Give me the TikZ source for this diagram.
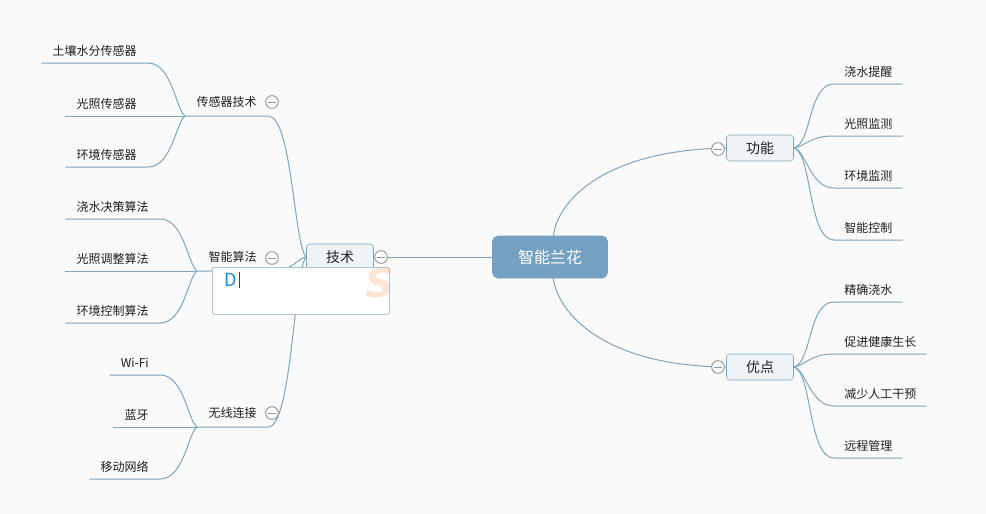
\documentclass[tikz,border=0pt]{standalone}
\usepackage{fontspec}
\setmainfont{Noto Sans CJK SC}
\newfontfamily\logofont{DejaVu Sans}
\usepackage{tikz}
\usetikzlibrary{positioning,calc}
\usepackage{xcolor}
\definecolor{rootblue}{RGB}{116,161,193}
\definecolor{linkblue}{RGB}{125,164,194}
\definecolor{topicfill}{RGB}{238,243,247}
\definecolor{pagebg}{RGB}{250,250,250}
\definecolor{imeblue}{RGB}{30,136,229}
\definecolor{imeframe}{RGB}{170,196,220}
\definecolor{foldgray}{RGB}{150,150,150}

\begin{document}
\begin{tikzpicture}[
  x=0.75pt, y=-0.75pt,
  root/.style={draw=rootblue, fill=rootblue, rounded corners=4pt, text=white, inner sep=0pt,
    font=\fontsize{12}{12}\selectfont, minimum width=86.25pt, minimum height=31.5pt},
  topic/.style={draw=linkblue, fill=topicfill, rounded corners=2.5pt, inner sep=0pt, text=black!88,
    font=\fontsize{10.5}{10.5}\selectfont, minimum width=50.25pt, minimum height=19.5pt},
  sub/.style={font=\fontsize{9}{9}\selectfont, text=black!88, inner xsep=8.5pt, inner ysep=0pt, minimum height=21pt},
  leafl/.style={font=\fontsize{9}{9}\selectfont, text=black!88, inner xsep=8.25pt, inner ysep=0pt, minimum height=18pt, anchor=south east},
  leafr/.style={font=\fontsize{9}{9}\selectfont, text=black!88, inner xsep=7.5pt, inner ysep=0pt, minimum height=18pt, anchor=south west},
  link/.style={draw=linkblue, line width=0.75pt},
  fold/.style={circle, draw=foldgray, fill=white, line width=0.7pt, minimum size=9.5pt, inner sep=0pt,
    path picture={\draw[foldgray, line width=0.7pt] ([xshift=-3.2pt]path picture bounding box.center) -- ([xshift=3.2pt]path picture bounding box.center);}}
]
\fill[pagebg] (0,0) rectangle (986,514);
\useasboundingbox (0,0) rectangle (986,514);

\node[root] (orchid) at (550,257) {智能兰花};
\node[topic] (tech) at (340,257) {技术};
\node[topic] (func) at (760,148) {功能};
\node[topic] (merit) at (760,367) {优点};

\node[sub, anchor=south west] (sensor) at (185,116) {传感器技术};
\node[sub, anchor=south west] (algo) at (197,271) {智能算法};
\node[sub, anchor=south west] (wireless) at (197,427) {无线连接};

\node[leafl] (soil) at (148,63) {土壤水分传感器};
\node[leafl] (lightsens) at (148,116) {光照传感器};
\node[leafl] (envsens) at (148,167) {环境传感器};
\node[leafl] (wateralgo) at (160,219) {浇水决策算法};
\node[leafl] (lightalgo) at (160,271) {光照调整算法};
\node[leafl] (envalgo) at (160,323) {环境控制算法};
\node[leafl] (wifi) at (160,375) {Wi-Fi};
\node[leafl] (bt) at (160,427) {蓝牙};
\node[leafl] (mobile) at (160,479) {移动网络};

\node[leafr] (remind) at (834,84) {浇水提醒};
\node[leafr] (lightmon) at (834,136) {光照监测};
\node[leafr] (envmon) at (834,188) {环境监测};
\node[leafr] (control) at (834,240) {智能控制};
\node[leafr] (precise) at (834,302) {精确浇水};
\node[leafr] (growth) at (834,354) {促进健康生长};
\node[leafr] (manual) at (834,406) {减少人工干预};
\node[leafr] (remote) at (834,458) {远程管理};

\draw[link] (orchid.west) -- (tech.east);
\draw[link] ([xshift=2.5pt]orchid.north) .. controls (558,200) and (605,150) .. (func.west);
\draw[link] ([xshift=2.5pt]orchid.south) .. controls (558,314) and (605,366) .. (merit.west);

\draw[link] (tech.west) .. controls (294,245) and (292,116) .. (sensor.south east) -- (sensor.south west);
\draw[link] (tech.west) .. controls (296,258) and (296,271) .. (algo.south east) -- (algo.south west);
\draw[link] (tech.west) .. controls (294,269) and (292,427) .. (wireless.south east) -- (wireless.south west);

\draw[link] (sensor.south west) .. controls (176,110) and (172,63) .. (soil.south east) -- (soil.south west);
\draw[link] (sensor.south west) -- (lightsens.south west);
\draw[link] (sensor.south west) .. controls (176,122) and (172,167) .. (envsens.south east) -- (envsens.south west);
\draw[link] (algo.south west) .. controls (188,265) and (184,219) .. (wateralgo.south east) -- (wateralgo.south west);
\draw[link] (algo.south west) -- (lightalgo.south west);
\draw[link] (algo.south west) .. controls (188,277) and (184,323) .. (envalgo.south east) -- (envalgo.south west);
\draw[link] (wireless.south west) .. controls (188,421) and (184,375) .. (wifi.south east) -- (wifi.south west);
\draw[link] (wireless.south west) -- (bt.south west);
\draw[link] (wireless.south west) .. controls (188,433) and (184,479) .. (mobile.south east) -- (mobile.south west);

\draw[link] (func.east) .. controls (812,144) and (808,84) .. (remind.south west) -- (remind.south east);
\draw[link] (func.east) .. controls (806,146) and (810,136) .. (lightmon.south west) -- (lightmon.south east);
\draw[link] (func.east) .. controls (806,150) and (810,188) .. (envmon.south west) -- (envmon.south east);
\draw[link] (func.east) .. controls (812,152) and (808,240) .. (control.south west) -- (control.south east);
\draw[link] (merit.east) .. controls (812,363) and (808,302) .. (precise.south west) -- (precise.south east);
\draw[link] (merit.east) .. controls (806,365) and (810,354) .. (growth.south west) -- (growth.south east);
\draw[link] (merit.east) .. controls (806,369) and (810,406) .. (manual.south west) -- (manual.south east);
\draw[link] (merit.east) .. controls (812,371) and (808,458) .. (remote.south west) -- (remote.south east);

\node[fold] (techfold) at (381,257) {};
\node[fold] (sensorfold) at (272,102) {};
\node[fold] (algofold) at (272,258) {};
\node[fold] (wirelessfold) at (272,413) {};
\node[fold] (funcfold) at (718,149) {};
\node[fold] (meritfold) at (718,367) {};

\node[draw=imeframe, fill=white, rounded corners=1.5pt, inner sep=0pt, line width=0.6pt,
  minimum width=132.75pt, minimum height=35.25pt, anchor=north west] (ime) at (212,267) {};
\begin{scope}
  \clip (ime.north west) rectangle (ime.south east);
  \node[text=orange!85!red, opacity=0.17, font=\logofont\bfseries\itshape\fontsize{30}{30}\selectfont] (logo) at (380,283) {S};
\end{scope}
\node[text=imeblue, font=\fontsize{13.5}{13.5}\selectfont, inner sep=0pt, anchor=west] (imetext) at (224,280) {D};
\node[fill=red!85!black, inner sep=0pt, minimum width=0.8pt, minimum height=12pt, right=1.2pt of imetext] (caret) {};
\end{tikzpicture}
\end{document}
